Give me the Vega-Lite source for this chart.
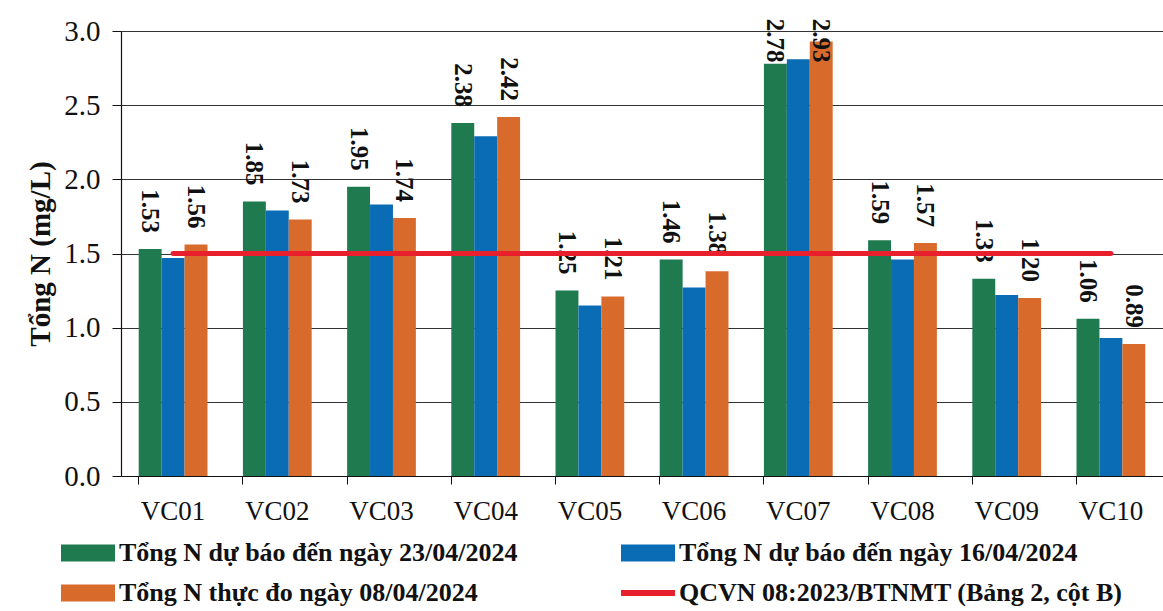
{
  "$schema": "https://vega.github.io/schema/vega-lite/v6.json",
  "autosize": "none",
  "width": 1042,
  "height": 445,
  "padding": {"left": 121, "top": 31, "right": 0, "bottom": 135},
  "background": "white",
  "config": {
    "font": "Liberation Serif",
    "view": {"stroke": null},
    "axis": {"labelFont": "Liberation Serif", "titleFont": "Liberation Serif", "labelColor": "#111", "titleColor": "#111"}
  },
  "datasets": {
    "bars": [
      {"station": "VC01", "series": "Tổng N dự báo đến ngày 23/04/2024", "value": 1.53},
      {"station": "VC01", "series": "Tổng N dự báo đến ngày 16/04/2024", "value": 1.47},
      {"station": "VC01", "series": "Tổng N thực đo ngày 08/04/2024", "value": 1.56},
      {"station": "VC02", "series": "Tổng N dự báo đến ngày 23/04/2024", "value": 1.85},
      {"station": "VC02", "series": "Tổng N dự báo đến ngày 16/04/2024", "value": 1.79},
      {"station": "VC02", "series": "Tổng N thực đo ngày 08/04/2024", "value": 1.73},
      {"station": "VC03", "series": "Tổng N dự báo đến ngày 23/04/2024", "value": 1.95},
      {"station": "VC03", "series": "Tổng N dự báo đến ngày 16/04/2024", "value": 1.83},
      {"station": "VC03", "series": "Tổng N thực đo ngày 08/04/2024", "value": 1.74},
      {"station": "VC04", "series": "Tổng N dự báo đến ngày 23/04/2024", "value": 2.38},
      {"station": "VC04", "series": "Tổng N dự báo đến ngày 16/04/2024", "value": 2.29},
      {"station": "VC04", "series": "Tổng N thực đo ngày 08/04/2024", "value": 2.42},
      {"station": "VC05", "series": "Tổng N dự báo đến ngày 23/04/2024", "value": 1.25},
      {"station": "VC05", "series": "Tổng N dự báo đến ngày 16/04/2024", "value": 1.15},
      {"station": "VC05", "series": "Tổng N thực đo ngày 08/04/2024", "value": 1.21},
      {"station": "VC06", "series": "Tổng N dự báo đến ngày 23/04/2024", "value": 1.46},
      {"station": "VC06", "series": "Tổng N dự báo đến ngày 16/04/2024", "value": 1.27},
      {"station": "VC06", "series": "Tổng N thực đo ngày 08/04/2024", "value": 1.38},
      {"station": "VC07", "series": "Tổng N dự báo đến ngày 23/04/2024", "value": 2.78},
      {"station": "VC07", "series": "Tổng N dự báo đến ngày 16/04/2024", "value": 2.81},
      {"station": "VC07", "series": "Tổng N thực đo ngày 08/04/2024", "value": 2.93},
      {"station": "VC08", "series": "Tổng N dự báo đến ngày 23/04/2024", "value": 1.59},
      {"station": "VC08", "series": "Tổng N dự báo đến ngày 16/04/2024", "value": 1.46},
      {"station": "VC08", "series": "Tổng N thực đo ngày 08/04/2024", "value": 1.57},
      {"station": "VC09", "series": "Tổng N dự báo đến ngày 23/04/2024", "value": 1.33},
      {"station": "VC09", "series": "Tổng N dự báo đến ngày 16/04/2024", "value": 1.22},
      {"station": "VC09", "series": "Tổng N thực đo ngày 08/04/2024", "value": 1.20},
      {"station": "VC10", "series": "Tổng N dự báo đến ngày 23/04/2024", "value": 1.06},
      {"station": "VC10", "series": "Tổng N dự báo đến ngày 16/04/2024", "value": 0.93},
      {"station": "VC10", "series": "Tổng N thực đo ngày 08/04/2024", "value": 0.89}
    ],
    "limit": [
      {"station": "VC01", "series": "QCVN 08:2023/BTNMT (Bảng 2, cột B)", "value": 1.5},
      {"station": "VC02", "series": "QCVN 08:2023/BTNMT (Bảng 2, cột B)", "value": 1.5},
      {"station": "VC03", "series": "QCVN 08:2023/BTNMT (Bảng 2, cột B)", "value": 1.5},
      {"station": "VC04", "series": "QCVN 08:2023/BTNMT (Bảng 2, cột B)", "value": 1.5},
      {"station": "VC05", "series": "QCVN 08:2023/BTNMT (Bảng 2, cột B)", "value": 1.5},
      {"station": "VC06", "series": "QCVN 08:2023/BTNMT (Bảng 2, cột B)", "value": 1.5},
      {"station": "VC07", "series": "QCVN 08:2023/BTNMT (Bảng 2, cột B)", "value": 1.5},
      {"station": "VC08", "series": "QCVN 08:2023/BTNMT (Bảng 2, cột B)", "value": 1.5},
      {"station": "VC09", "series": "QCVN 08:2023/BTNMT (Bảng 2, cột B)", "value": 1.5},
      {"station": "VC10", "series": "QCVN 08:2023/BTNMT (Bảng 2, cột B)", "value": 1.5}
    ]
  },
  "layer": [
    {
      "data": {"name": "bars"},
      "mark": {"type": "bar"},
      "encoding": {
        "x": {
          "field": "station", "type": "nominal",
          "scale": {"paddingInner": 0.34, "paddingOuter": 0.17},
          "axis": {
            "title": null, "labelAngle": 0, "labelFontSize": 27, "labelPadding": 14,
            "bandPosition": 0, "ticks": true, "tickSize": 8, "tickColor": "#111",
            "domainColor": "#111", "domainWidth": 1.2, "grid": false
          }
        },
        "xOffset": {"field": "series", "type": "nominal", "sort": ["Tổng N dự báo đến ngày 23/04/2024", "Tổng N dự báo đến ngày 16/04/2024", "Tổng N thực đo ngày 08/04/2024"], "scale": {"paddingInner": 0, "paddingOuter": 0}},
        "y": {
          "field": "value", "type": "quantitative",
          "scale": {"domain": [0, 3], "nice": false},
          "axis": {
            "title": "Tổng N (mg/L)", "titleFontSize": 29, "titleFontWeight": "bold",
            "titleX": -81, "titleBaseline": "middle", "titleAngle": -90,
            "values": [0, 0.5, 1, 1.5, 2, 2.5, 3], "format": ".1f", "labelFontSize": 29, "labelPadding": 12,
            "tickSize": 9, "tickColor": "#111", "domainColor": "#111", "domainWidth": 1.2,
            "grid": true, "gridColor": "#333", "gridWidth": 1.2
          }
        },
        "color": {
          "field": "series", "type": "nominal",
          "scale": {
            "domain": ["Tổng N dự báo đến ngày 23/04/2024", "Tổng N dự báo đến ngày 16/04/2024", "Tổng N thực đo ngày 08/04/2024", "QCVN 08:2023/BTNMT (Bảng 2, cột B)"],
            "range": ["#1f7a4f", "#0b6cb6", "#d86a2c", "#e8202e"]
          },
          "legend": {
            "orient": "none", "legendX": -48, "legendY": 507, "columns": 2, "direction": "horizontal",
            "title": null, "labelFont": "Liberation Serif", "labelFontSize": 26, "labelFontWeight": "bold", "labelColor": "#111",
            "labelLimit": 700, "columnPadding": 103, "rowPadding": 12, "labelOffset": 16,
            "symbolType": "M-1.8,-0.57H1.8V0.57H-1.8Z", "symbolSize": 900, "symbolStrokeWidth": 0,
            "encode": {
              "symbols": {
                "update": {
                  "shape": {"signal": "datum.value === 'QCVN 08:2023/BTNMT (Bảng 2, cột B)' ? 'M-1.8,-0.2H1.8V0.2H-1.8Z' : 'M-1.8,-0.57H1.8V0.57H-1.8Z'"}
                }
              }
            }
          }
        }
      }
    },
    {
      "data": {"name": "bars"},
      "transform": [
        {"filter": "datum.series !== 'Tổng N dự báo đến ngày 16/04/2024'"},
        {"calculate": "min(datum.value, 2.68)", "as": "labelPos"}
      ],
      "mark": {"type": "text", "angle": 90, "align": "right", "baseline": "middle", "dx": -16, "font": "Liberation Serif", "fontSize": 25, "fontWeight": "bold", "color": "#111"},
      "encoding": {
        "x": {"field": "station", "type": "nominal"},
        "xOffset": {"field": "series", "type": "nominal", "sort": ["Tổng N dự báo đến ngày 23/04/2024", "Tổng N dự báo đến ngày 16/04/2024", "Tổng N thực đo ngày 08/04/2024"]},
        "y": {"field": "labelPos", "type": "quantitative"},
        "text": {"field": "value", "type": "quantitative", "format": ".2f"}
      }
    },
    {
      "data": {"name": "limit"},
      "mark": {"type": "line", "strokeWidth": 5, "strokeCap": "round"},
      "encoding": {
        "x": {"field": "station", "type": "nominal"},
        "y": {"field": "value", "type": "quantitative"},
        "color": {"field": "series", "type": "nominal"}
      }
    }
  ]
}
